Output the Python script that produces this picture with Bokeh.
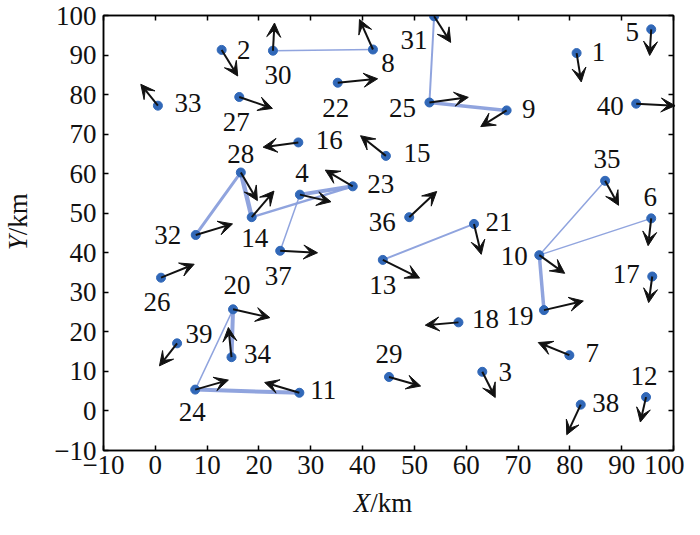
import math
from bokeh.plotting import figure
from bokeh.models import (ColumnDataSource, Range1d, FixedTicker, LinearAxis,
                          Arrow, VeeHead)
from bokeh.layouts import column, row
from bokeh.core.properties import value
from bokeh.embed import file_html
from bokeh.resources import INLINE

# ---- data ----
node_id = list(range(1, 41))
node_x = [81.3, 12.8, 63.1, 27.9, 95.7, 95.7, 79.9, 42.0, 67.8, 74.1,
          27.8, 94.7, 43.9, 18.6, 44.5, 27.6, 95.9, 58.5, 75.0, 15.0,
          61.5, 35.2, 38.1, 7.7, 52.9, 1.1, 16.2, 16.5, 45.1, 22.7,
          53.8, 7.8, 0.5, 14.7, 86.8, 49.0, 24.1, 82.1, 4.2, 92.8]
node_y = [90.5, 91.3, 9.9, 54.7, 96.5, 48.7, 14.1, 91.4, 76.0, 39.4,
          4.6, 3.5, 38.2, 49.0, 64.5, 67.9, 34.0, 22.4, 25.5, 25.7,
          47.3, 83.0, 56.8, 5.4, 78.0, 33.7, 79.4, 60.3, 8.6, 91.1,
          99.8, 44.5, 77.2, 13.6, 58.2, 49.0, 40.5, 1.6, 17.1, 77.7]
# heading vectors (km)
vel_x = [0.9, 3.1, 2.5, 6.0, -0.3, -0.6, -6.0, -2.6, -5.0, 4.9,
         -6.7, -1.1, 7.1, 4.3, -4.9, -6.8, -0.7, -6.4, 7.6, 7.1,
         1.4, 7.7, -5.3, 6.4, 7.5, 6.4, 6.4, 3.2, 6.1, 0.3,
         3.2, 7.1, -3.3, -0.6, 2.6, 5.3, 7.2, -2.7, -3.4, 7.5]
vel_y = [-7.3, -6.6, -6.5, -1.8, -6.6, -6.9, 3.2, 7.6, -4.1, -4.6,
         2.6, -6.3, -4.6, 6.6, 5.1, -1.2, -6.6, -0.7, 2.3, -2.1,
         -7.7, 1.0, 4.1, 2.4, 1.3, 3.4, -2.9, -7.1, -2.3, 7.0,
         -6.6, 2.8, 5.4, 7.5, -6.2, 6.5, -0.5, -7.6, -5.7, -0.5]
# cluster links (node pairs) and link weights
link_a = [30, 31, 25, 32, 28, 14, 4, 4, 13, 10, 10, 10, 20, 20, 24]
link_b = [8, 25, 9, 28, 14, 23, 23, 37, 21, 35, 6, 19, 34, 24, 11]
link_w = [1.5, 2.0, 3.5, 3.0, 4.5, 2.5, 4.0, 1.5, 2.0, 1.5, 1.5, 3.5, 4.0, 1.5, 4.0]

tick_vals = [-10, 0, 10, 20, 30, 40, 50, 60, 70, 80, 90, 100]
tick_text = ["\u221210", "0", "10", "20", "30", "40", "50", "60", "70", "80", "90", "100"]

x_title = ["X", "/km"]
y_title = ["Y", "/km"]

# label placement offsets in pixels (dx right, dy down)
lab_dx = [22, 22, 23, 2, -19, -1, 23, 15, 22, -25,
          24, -2, 0, 3, 31, 31, -26, 27, -24, 4,
          25, -2, 28, -3, -27, -4, -3, 0, 0, 5,
          -20, -28, 30, 26, 2, -27, -2, 25, 22, -26]
lab_dy = [-1, 0, 0, -22, 3, -21, -2, 13, -1, 1,
          -3, -21, 25, 21, -3, -2, -3, -3, 6, -24,
          -2, 25, -2, 22, 5, 24, 25, -18, -23, 24,
          24, 0, -3, -3, -22, 5, 25, -2, -9, 2]

FONT = "Liberation Serif"
FS = "27px"
INK = "#111111"

# geometry
LEFT_W = 34
B_LEFT, B_RIGHT, B_TOP, B_BOTTOM = 69, 11, 15, 38
FW, FH = 570, 435
MAIN_H = B_TOP + FH + B_BOTTOM
BOT_H = 519 - MAIN_H
TOTAL_W = LEFT_W + B_LEFT + FW + B_RIGHT

p = figure(output_backend="svg", toolbar_location=None,
           x_range=Range1d(-10, 100), y_range=Range1d(-10, 100),
           min_border_left=B_LEFT, min_border_right=B_RIGHT, min_border_top=B_TOP,
           min_border_bottom=B_BOTTOM, frame_width=FW, frame_height=FH,
           background_fill_color="white", border_fill_color="white")
p.grid.visible = False
p.outline_line_color = "black"
p.outline_line_width = 1.5

ticker = FixedTicker(ticks=tick_vals)
overrides = {v: t for v, t in zip(tick_vals, tick_text)}
for ax in (p.xaxis[0], p.yaxis[0]):
    ax.ticker = ticker
    ax.major_label_overrides = overrides
    ax.major_tick_in = 5
    ax.major_tick_out = 0
    ax.minor_tick_line_color = None
    ax.major_label_text_font = FONT
    ax.major_label_text_font_size = FS
    ax.major_label_text_color = INK
    ax.axis_line_width = 1.5
    ax.major_tick_line_width = 1.5
p.xaxis[0].major_label_standoff = 5
p.yaxis[0].major_label_standoff = 7

blank = {v: "" for v in tick_vals}
for loc in ("above", "right"):
    a = LinearAxis(ticker=ticker, major_tick_in=5, major_tick_out=0,
                   minor_tick_line_color=None, major_label_overrides=blank,
                   major_label_standoff=0, axis_line_width=1.5, major_tick_line_width=1.5)
    p.add_layout(a, loc)

# links
idx = {n: i for i, n in enumerate(node_id)}
lsrc = ColumnDataSource(dict(
    x0=[node_x[idx[a]] for a in link_a], y0=[node_y[idx[a]] for a in link_a],
    x1=[node_x[idx[b]] for b in link_b], y1=[node_y[idx[b]] for b in link_b],
    w=link_w))
p.segment("x0", "y0", "x1", "y1", source=lsrc, line_width="w",
          line_color="#8a9fdc", line_alpha=0.95, line_cap="round")

# heading arrows
asrc = ColumnDataSource(dict(
    x0=node_x, y0=node_y,
    x1=[x + vx for x, vx in zip(node_x, vel_x)],
    y1=[y + vy for y, vy in zip(node_y, vel_y)]))
p.add_layout(Arrow(source=asrc, x_start="x0", y_start="y0", x_end="x1", y_end="y1",
                   line_color=INK, line_width=2,
                   end=VeeHead(size=14, fill_color=INK, line_color=INK, line_width=1)))

# nodes
nsrc = ColumnDataSource(dict(x=node_x, y=node_y, lab=[str(n) for n in node_id],
                             dx=lab_dx, dy=lab_dy))
p.scatter("x", "y", source=nsrc, size=9, fill_color="#3168b8", line_color="#3168b8")
p.text("x", "y", text="lab", source=nsrc, x_offset="dx", y_offset="dy",
       text_font=value(FONT), text_font_size=FS, text_color=INK,
       text_align="center", text_baseline="middle")


def strip(w, h):
    f = figure(width=w, height=h, output_backend="svg", toolbar_location=None,
               x_range=Range1d(0, w), y_range=Range1d(0, h),
               x_axis_type=None, y_axis_type=None, min_border=0,
               background_fill_color="white", border_fill_color="white")
    f.outline_line_color = None
    f.grid.visible = False
    return f


# left strip with the Y title
L = strip(LEFT_W, MAIN_H)
ys = MAIN_H - (B_TOP + 0.532 * FH)
L.text([LEFT_W / 2], [ys], text=[y_title[0]], angle=math.pi / 2, text_font=value(FONT),
       text_font_size=FS, text_font_style="italic", text_color=INK,
       text_align="right", text_baseline="middle")
L.text([LEFT_W / 2], [ys], text=[y_title[1]], angle=math.pi / 2, text_font=value(FONT),
       text_font_size=FS, text_color=INK, text_align="left", text_baseline="middle")

# bottom strip with the X title
B = strip(TOTAL_W, BOT_H)
xs = LEFT_W + B_LEFT + (41.5 + 10) / 110 * FW
B.text([xs], [BOT_H / 2 + 1], text=[x_title[0]], text_font=value(FONT),
       text_font_size=FS, text_font_style="italic", text_color=INK,
       text_align="right", text_baseline="middle")
B.text([xs], [BOT_H / 2 + 1], text=[x_title[1]], text_font=value(FONT),
       text_font_size=FS, text_color=INK, text_align="left", text_baseline="middle")

layout = column(row(L, p, spacing=0), B, spacing=0)
open("out.html", "w").write(file_html(layout, INLINE))
